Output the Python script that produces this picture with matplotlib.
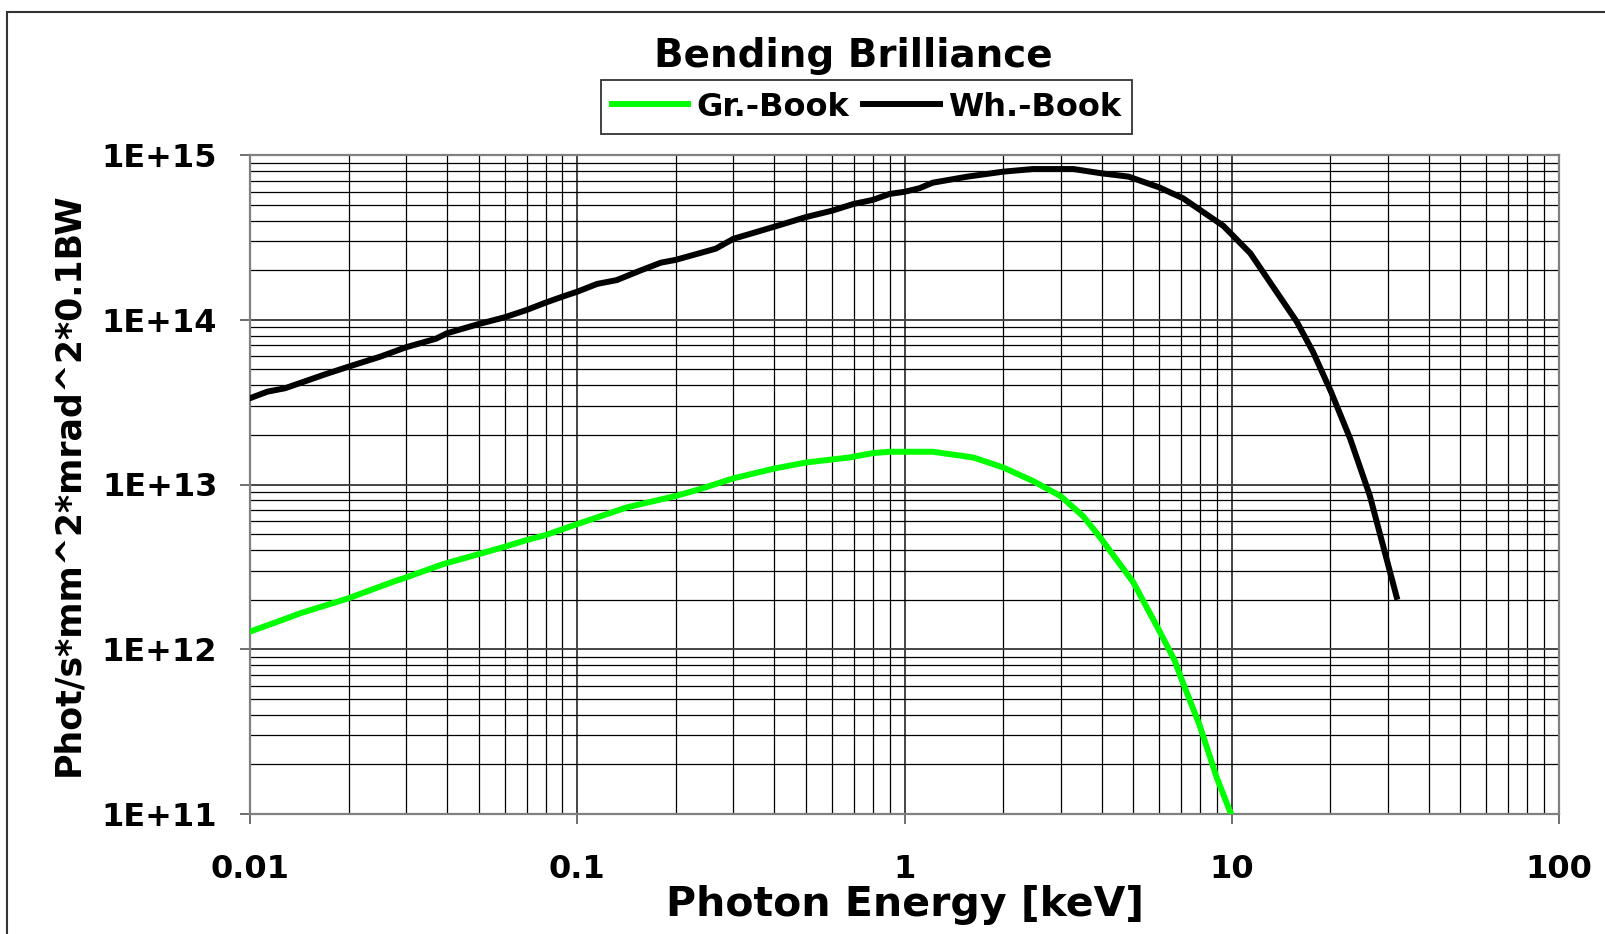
import numpy as np
import matplotlib
matplotlib.use('Agg')
import matplotlib.pyplot as plt
from matplotlib.patches import Rectangle
from matplotlib.ticker import FixedLocator, FuncFormatter, LogLocator, NullFormatter

# Bending magnet brilliance (energy in keV)
energy_wh = [0.01, 0.0113, 0.0128, 0.0171, 0.02, 0.025, 0.03, 0.037, 0.04, 0.05,
             0.06, 0.07, 0.08, 0.09, 0.1, 0.115, 0.132, 0.156, 0.18, 0.2,
             0.265, 0.3, 0.4, 0.5, 0.6, 0.7, 0.8, 0.9, 1.0, 1.11,
             1.22, 1.55, 2.0, 2.47, 3.28, 4.0, 4.84, 6.0, 7.1, 9.43,
             11.4, 15.8, 17.7, 20.1, 23.0, 26.4, 31.9]
brill_wh = [3.34e13, 3.66e13, 3.84e13, 4.69e13, 5.19e13, 5.97e13, 6.81e13, 7.67e13, 8.28e13, 9.42e13,
            1.035e14, 1.146e14, 1.27e14, 1.38e14, 1.48e14, 1.65e14, 1.74e14, 1.99e14, 2.22e14, 2.31e14,
            2.7e14, 3.1e14, 3.67e14, 4.2e14, 4.59e14, 5.05e14, 5.34e14, 5.8e14, 5.98e14, 6.28e14,
            6.79e14, 7.38e14, 7.92e14, 8.22e14, 8.22e14, 7.74e14, 7.39e14, 6.36e14, 5.46e14, 3.71e14,
            2.53e14, 9.73e13, 6.4e13, 3.66e13, 1.9e13, 8.6e12, 2.08e12]

energy_gr = [0.01, 0.0126, 0.0142, 0.02, 0.0274, 0.03, 0.039, 0.05, 0.06, 0.07,
             0.08, 0.1, 0.142, 0.2, 0.236, 0.3, 0.4, 0.5, 0.68, 0.8,
             0.9, 1.22, 1.62, 2.0, 2.47, 3.0, 3.52, 4.0, 5.0, 6.0,
             6.7, 7.0, 8.0, 9.0, 9.95]
brill_gr = [1.28e12, 1.51e12, 1.65e12, 2.04e12, 2.57e12, 2.73e12, 3.29e12, 3.78e12, 4.19e12, 4.6e12,
            4.93e12, 5.75e12, 7.27e12, 8.52e12, 9.35e12, 1.09e13, 1.25e13, 1.36e13, 1.46e13, 1.55e13,
            1.58e13, 1.58e13, 1.46e13, 1.27e13, 1.05e13, 8.5e12, 6.4e12, 4.65e12, 2.55e12, 1.3e12,
            8.5e11, 6.7e11, 3.4e11, 1.66e11, 1.0e11]

x_ticks = [0.01, 0.1, 1, 10, 100]
x_ticklabels = ['0.01', '0.1', '1', '10', '100']
y_ticks = [1e11, 1e12, 1e13, 1e14, 1e15]

plt.rcParams['font.family'] = 'DejaVu Sans'
plt.rcParams['font.weight'] = 'bold'

fig = plt.figure(figsize=(16.05, 9.34), dpi=100)
ax = fig.add_axes([250 / 1605, 1 - 814 / 934, 1309 / 1605, 659 / 934])

ax.plot(energy_gr, brill_gr, color='#00FF00', lw=4.3, label='Gr.-Book', zorder=3)
ax.plot(energy_wh, brill_wh, color='black', lw=4.3, label='Wh.-Book', zorder=3)

ax.set_xscale('log')
ax.set_yscale('log')
ax.set_xlim(0.01, 100)
ax.set_ylim(1e11, 1e15)

ax.xaxis.set_major_locator(FixedLocator(x_ticks))
ax.xaxis.set_major_formatter(FuncFormatter(lambda v, p: x_ticklabels[x_ticks.index(v)] if v in x_ticks else ''))
ax.yaxis.set_major_locator(FixedLocator(y_ticks))
ax.yaxis.set_major_formatter(FuncFormatter(lambda v, p: '1E+%d' % round(np.log10(v))))
ax.xaxis.set_minor_locator(LogLocator(base=10, subs=np.arange(2, 10)))
ax.yaxis.set_minor_locator(LogLocator(base=10, subs=np.arange(2, 10)))
ax.xaxis.set_minor_formatter(NullFormatter())
ax.yaxis.set_minor_formatter(NullFormatter())

ax.grid(True, which='minor', color='black', lw=0.9, zorder=1)
ax.grid(True, which='major', color='#444444', lw=1.4, zorder=1)
ax.set_axisbelow(True)
ax.tick_params(which='major', direction='out', length=7.5, width=1.2, color='#555555',
               labelsize=23, pad=16)
ax.tick_params(axis='x', which='major', pad=21)
ax.tick_params(which='minor', length=0)
for s in ax.spines.values():
    s.set_color('#808080')
    s.set_linewidth(1.6)

ax.set_xlabel('Photon Energy [keV]', fontsize=29.5, fontweight='bold', labelpad=0)
ax.set_ylabel('Phot/s*mm^2*mrad^2*0.1BW', fontsize=25, fontweight='bold', labelpad=12)

fig.text(853 / 1605, 1 - 66.7 / 934, 'Bending Brilliance', fontsize=28, fontweight='bold',
         ha='center', va='baseline')
leg = fig.legend(loc='center', bbox_to_anchor=(866.5 / 1605, 1 - 107 / 934), ncol=2,
                 fontsize=23, handlelength=2.4, handletextpad=0.25, columnspacing=0.45,
                 borderpad=0.35, fancybox=False, framealpha=1)
leg.get_frame().set_edgecolor('#333333')
leg.get_frame().set_linewidth(1.3)

fig.add_artist(Rectangle((7 / 1605, -0.05), 1.2, 1 - 12 / 934 + 0.05, transform=fig.transFigure,
                         fill=False, edgecolor='#333333', lw=1.5, clip_on=False))

fig.savefig('out.png', dpi=100)
